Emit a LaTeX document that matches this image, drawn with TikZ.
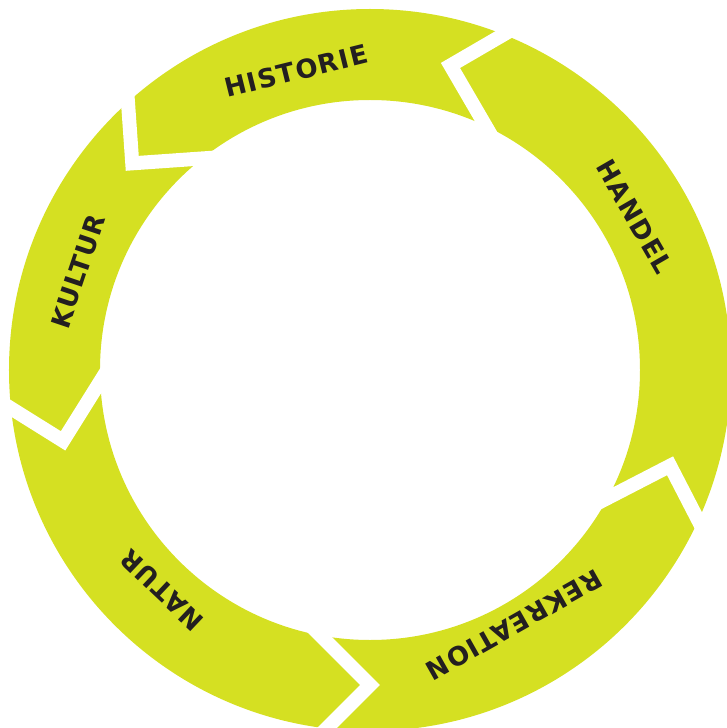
\documentclass[tikz,border=0pt]{standalone}
\usepackage{fontspec}
\setmainfont{DejaVu Sans}
\newfontfamily\ringfont{DejaVu Sans}[LetterSpace=5]
\usepackage{xcolor}
\definecolor{ringgreen}{RGB}{213,224,34}
\definecolor{labelink}{RGB}{35,31,32}

\begin{document}
\begin{tikzpicture}[x=1pt, y=1pt,
    every node/.style={
    inner sep=0pt,
    text=labelink,
    font=\ringfont\bfseries\fontsize{26}{26}\selectfont
},
    gapline/.style={
    white,
    line width=14pt,
    miter limit=10
}]
    \useasboundingbox (-370,-358) rectangle (356,370);

    \fill[ringgreen, even odd rule] (0,0) circle[radius=361pt] (0,0) circle[radius=270pt];

    \begin{scope}[rotate=75.2]
        \draw[gapline] (380,-65) -- (315,0) -- (250,-65);
    \end{scope}
    \begin{scope}[rotate=139]
        \draw[gapline] (380,-65) -- (315,0) -- (250,-65);
    \end{scope}
    \begin{scope}[rotate=193]
        \draw[gapline] (380,-65) -- (315,0) -- (250,-65);
    \end{scope}
    \begin{scope}[rotate=270]
        \draw[gapline] (380,-65) -- (315,0) -- (250,-65);
    \end{scope}
    \begin{scope}[rotate=342.3]
        \draw[gapline] (380,-65) -- (315,0) -- (250,-65);
    \end{scope}

    \node (historie) [rotate=13.9] at (103.9:308) {HISTORIE};
    \node (handel) [rotate=-60] at (30.05:306) {HANDEL};
    \node (rekreation) [rotate=-150.5] at (-60.5:293) {REKREATION};
    \node (natur) [rotate=136.6] at (226.6:303) {NATUR};
    \node (kultur) [rotate=71.4] at (161.4:308) {KULTUR};
\end{tikzpicture}
\end{document}
